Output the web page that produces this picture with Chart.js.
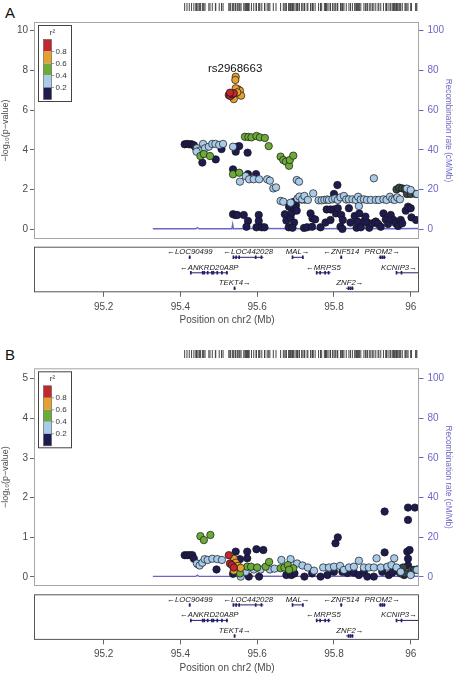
<!DOCTYPE html>
<html>
<head>
<meta charset="utf-8">
<script src="https://cdn.jsdelivr.net/npm/chart.js@4.4.1/dist/chart.umd.min.js"></script>
<style>
  html, body { margin: 0; padding: 0; background: #fff; }
  body { width: 453px; height: 673px; position: relative; overflow: hidden; font-family: "Liberation Sans", Arial, sans-serif; }
  canvas { position: absolute; left: 0; }
  .tag { position: absolute; font-size: 15px; color: #111; line-height: 1; }
</style>
</head>
<body>
<div class="tag" style="left:5px;top:5px">A</div>
<div class="tag" style="left:5px;top:347px">B</div>
<canvas id="mainA" width="453" height="249" style="top:0px"></canvas>
<canvas id="rugA" width="453" height="14" style="top:0px"></canvas>
<canvas id="geneA" width="453" height="86" style="top:240px"></canvas>
<canvas id="mainB" width="453" height="266" style="top:330px"></canvas>
<canvas id="rugB" width="453" height="14" style="top:347px"></canvas>
<canvas id="geneB" width="453" height="86" style="top:588px"></canvas>
<script>
// ---- data: [position (Mb), -log10 p] per LD group ----
const aRed = [[95.526,6.76],[95.530,6.71],[95.535,6.80],[95.539,6.85],[95.529,6.88]];
const aOrange = [[95.544,7.68],[95.543,7.52],[95.550,7.05],[95.555,6.98],[95.558,6.73],[95.539,6.56],[95.544,7.10],[95.548,6.90]];
const aGreen = [[95.452,3.69],[95.461,3.79],[95.477,3.69],[95.568,4.66],[95.577,4.65],[95.585,4.63],[95.598,4.70],
  [95.607,4.63],[95.620,4.60],[95.630,4.19],[95.661,3.66],[95.668,3.49],[95.675,3.41],[95.683,3.20],[95.685,3.49],
  [95.694,3.71],[95.537,2.77],[95.553,2.85]];
const aLightBlue = [[95.443,4.08],[95.450,3.96],[95.442,3.91],[95.459,4.30],[95.464,4.08],[95.474,4.16],[95.483,4.30],
  [95.491,4.30],[95.501,4.25],[95.511,4.30],[95.537,4.16],[95.555,2.40],[95.570,2.68],[95.579,2.52],[95.591,2.52],
  [95.605,2.52],[95.626,2.52],[95.633,2.45],[95.642,2.06],[95.649,2.11],[95.703,2.48],[95.709,2.40],[95.661,1.43],
  [95.668,1.39],[95.687,1.34],[95.705,1.55],[95.710,1.65],[95.717,1.51],[95.723,1.68],[95.732,1.48],[95.746,1.81],
  [95.760,1.46],[95.768,1.46],[95.775,1.48],[95.782,1.50],[95.787,1.48],[95.796,1.51],[95.803,1.55],[95.810,1.48],
  [95.817,1.61],[95.826,1.68],[95.832,1.50],[95.839,1.51],[95.848,1.51],[95.857,1.48],[95.863,1.64],[95.865,1.17],
  [95.870,1.50],[95.878,1.51],[95.886,1.48],[95.896,1.48],[95.904,2.57],[95.909,1.48],[95.917,1.48],[95.929,1.51],
  [95.937,1.48],[95.946,1.64],[95.952,1.51],[95.958,1.48],[95.965,1.61],[95.972,1.51],[95.990,2.05],[96.000,1.98],
  [96.016,1.78]];
const aGrey = [[95.963,2.01],[95.970,2.10],[95.978,2.06],[95.985,2.03],[95.990,1.78],[96.000,1.78],[96.013,1.78],
  [95.716,1.50],[95.724,1.50],[95.446,4.00],[95.440,4.10]];
const aNavy = [[95.411,4.28],[95.417,4.30],[95.423,4.28],[95.429,4.28],[95.435,4.23],[95.457,3.36],[95.492,3.52],
  [95.507,4.04],[95.548,4.16],[95.553,4.19],[95.544,3.91],[95.575,3.86],[95.537,3.02],[95.576,2.78],[95.597,2.78],
  [95.537,0.76],[95.543,0.72],[95.548,0.72],[95.565,0.72],[95.576,0.42],[95.572,0.13],[95.604,0.72],[95.604,0.42],
  [95.598,0.10],[95.612,0.10],[95.619,0.10],[95.672,0.76],[95.676,0.44],[95.682,0.10],[95.687,0.60],[95.690,0.84],
  [95.696,1.04],[95.701,1.21],[95.703,0.94],[95.696,0.34],[95.692,0.08],[95.683,1.14],[95.696,1.39],[95.722,0.07],
  [95.730,0.10],[95.739,0.80],[95.744,0.55],[95.751,0.50],[95.743,0.13],[95.765,0.10],[95.778,0.34],[95.791,0.47],
  [95.781,1.00],[95.791,1.00],[95.800,1.00],[95.805,0.80],[95.810,1.06],[95.819,0.72],[95.823,0.47],[95.817,0.13],
  [95.822,0.02],[95.809,2.23],[95.800,1.78],[95.839,1.06],[95.843,0.34],[95.854,0.67],[95.861,0.39],[95.866,0.80],
  [95.859,0.08],[95.870,0.10],[95.878,0.39],[95.882,0.64],[95.887,0.34],[95.892,0.08],[95.900,0.30],[95.909,0.39],
  [95.915,0.27],[95.922,0.13],[95.929,0.80],[95.935,0.50],[95.941,0.27],[95.948,0.72],[95.955,0.47],[95.961,0.30],
  [95.967,0.17],[95.974,0.47],[95.978,0.30],[95.987,0.94],[95.993,1.14],[96.000,1.06],[96.002,0.60],[96.014,0.47]];

const bRed = [[95.526,0.55],[95.529,0.34],[95.534,0.30],[95.539,0.24]];
const bOrange = [[95.539,0.46],[95.544,0.36],[95.550,0.28],[95.557,0.23],[95.539,0.16]];
const bGreen = [[95.452,1.03],[95.461,0.93],[95.478,1.06],[95.555,0.09],[95.574,0.26],[95.584,0.26],[95.600,0.24],
  [95.622,0.26],[95.631,0.38],[95.661,0.22],[95.671,0.24],[95.680,0.30],[95.694,0.22],[95.683,0.18]];
const bLightBlue = [[95.443,0.34],[95.450,0.29],[95.457,0.36],[95.463,0.45],[95.471,0.43],[95.483,0.46],[95.496,0.45],
  [95.508,0.43],[95.557,0.01],[95.570,0.13],[95.591,0.19],[95.609,0.19],[95.633,0.19],[95.645,0.21],[95.663,0.43],
  [95.687,0.45],[95.704,0.34],[95.718,0.29],[95.732,0.24],[95.748,0.16],[95.772,0.24],[95.787,0.24],[95.800,0.26],
  [95.816,0.28],[95.826,0.18],[95.839,0.24],[95.852,0.26],[95.865,0.41],[95.878,0.24],[95.891,0.24],[95.904,0.24],
  [95.911,0.47],[95.922,0.24],[95.939,0.26],[95.950,0.30],[95.957,0.47],[95.963,0.24],[95.974,0.13],[96.016,0.18],
  [96.000,0.05]];
const bGrey = [[95.974,0.09],[95.985,0.09],[96.002,0.18],[96.009,0.18],[96.017,0.19],[95.446,0.32],[95.980,0.24]];
const bNavy = [[95.411,0.55],[95.418,0.55],[95.425,0.55],[95.431,0.55],[95.435,0.46],[95.494,0.19],[95.544,0.64],
  [95.555,0.45],[95.574,0.64],[95.574,0.47],[95.598,0.70],[95.616,0.68],[95.537,0.08],[95.578,0.01],[95.605,0.01],
  [95.676,0.05],[95.689,0.05],[95.697,0.09],[95.723,0.01],[95.743,0.09],[95.765,0.01],[95.783,0.05],[95.804,0.85],
  [95.810,1.00],[95.800,0.13],[95.822,0.13],[95.835,0.10],[95.852,0.11],[95.865,0.05],[95.878,0.13],[95.887,0.01],
  [95.904,0.01],[95.932,1.65],[95.932,0.62],[95.926,0.13],[95.943,0.05],[95.952,0.11],[95.991,0.64],[95.997,0.68],
  [95.993,1.44],[95.993,1.75],[96.011,1.75],[95.993,0.46],[95.993,0.29],[95.970,0.13],[95.983,0.05]];

// recombination rate (cM/Mb)
const recombPos  = [95.328, 95.440, 95.444, 95.448, 95.534, 95.536, 95.538, 95.600, 95.750, 95.850, 95.950, 96.030];
const recombRate = [0.3,    0.3,    0.9,    0.3,    0.3,    2.5,    0.3,    0.4,    0.3,    0.4,    0.3,    0.4];

// genes
const geneNames  = ['LOC90499', 'LOC442028', 'MAL', 'ZNF514', 'PROM2', 'ANKRD20A8P', 'MRPS5', 'KCNIP3', 'TEKT4', 'ZNF2'];
const geneStart  = [95.422, 95.537, 95.691, 95.816, 95.917, 95.426, 95.754, 95.962, 95.539, 95.832];
const geneEnd    = [95.427, 95.616, 95.720, 95.822, 95.935, 95.524, 95.791, 96.030, 95.544, 95.851];
const geneRow    = [0, 0, 0, 0, 0, 1, 1, 1, 2, 2];
const geneStrand = [-1, -1, 1, -1, 1, -1, -1, 1, 1, 1];
const geneExons  = [
  [95.424], [95.538, 95.545, 95.553, 95.596, 95.611], [95.692, 95.719], [95.819], [95.921, 95.926, 95.931],
  [95.427, 95.458, 95.462, 95.471, 95.482, 95.486, 95.496, 95.508, 95.521], [95.755, 95.764, 95.777, 95.786],
  [95.963, 95.976], [95.541], [95.838, 95.843, 95.848]
];

const topSnpName = 'rs2968663';
const topSnpPos = 95.5425;

const legendLabels = ['0.8', '0.6', '0.4', '0.2'];
const xTicks = [95.2, 95.4, 95.6, 95.8, 96];
const yTicksA = [0, 2, 4, 6, 8, 10];
const yTicksB = [0, 1, 2, 3, 4, 5];
const recombTicks = [0, 20, 40, 60, 80, 100];

// ---- styling ----
const FONT = '"Liberation Sans", Arial, sans-serif';
const C = {
  red: '#c1272d', orange: '#e5a032', green: '#6cab3a', lightBlue: '#a8cbea',
  grey: '#3b4848', navy: '#1e1b50', recomb: '#6b67c4', axis: '#4a4a4a', gene: '#23206a'
};
const legendColors = [C.red, C.orange, C.green, C.lightBlue, C.navy];
const xMin = 95.021, xMax = 96.0216;
const GENE_BOX_H = 45.6;

const decor = {
  id: 'decor',
  afterDraw(chart, args, o) {
    const { ctx, chartArea: a } = chart;
    ctx.save();
    if (o.frame) {
      ctx.strokeStyle = o.frame;
      ctx.lineWidth = 1;
      ctx.strokeRect(a.left - 0.5, a.top + 0.5, a.right - a.left, a.bottom - a.top - 1);
    }
    if (o.legend) {
      const x0 = a.left + 3.5, y0 = a.top + 3.5, w = 33, h = 76;
      ctx.fillStyle = '#fff';
      ctx.fillRect(x0, y0, w, h);
      ctx.strokeStyle = '#444';
      ctx.strokeRect(x0, y0, w, h);
      ctx.fillStyle = '#333';
      ctx.font = '8px ' + FONT;
      ctx.textAlign = 'center';
      ctx.textBaseline = 'middle';
      ctx.fillText('r²', x0 + 14, y0 + 7);
      legendColors.forEach((c, i) => {
        ctx.fillStyle = c;
        ctx.fillRect(x0 + 5, y0 + 14 + i * 12, 8, 12);
      });
      ctx.strokeStyle = '#555';
      ctx.lineWidth = 0.6;
      ctx.strokeRect(x0 + 5, y0 + 14, 8, 60);
      ctx.textAlign = 'left';
      ctx.fillStyle = '#333';
      legendLabels.forEach((t, i) => {
        const y = y0 + 14 + (i + 1) * 12;
        ctx.beginPath(); ctx.moveTo(x0 + 13, y); ctx.lineTo(x0 + 15.5, y); ctx.stroke();
        ctx.fillText(t, x0 + 17, y);
      });
    }
    if (o.note) {
      const xs = chart.scales.x, ys = chart.scales.y;
      ctx.fillStyle = '#111';
      ctx.font = '11.5px ' + FONT;
      ctx.textAlign = 'center';
      ctx.textBaseline = 'middle';
      ctx.fillText(o.note.text, xs.getPixelForValue(o.note.x), ys.getPixelForValue(o.note.y));
    }
    if (o.genes) {
      const xs = chart.scales.x, ys = chart.scales.y;
      ctx.fillStyle = '#222';
      ctx.font = 'italic 7.8px ' + FONT;
      ctx.textAlign = 'center';
      ctx.textBaseline = 'middle';
      geneNames.forEach((n, i) => {
        const txt = geneStrand[i] < 0 ? '\u2190' + n : n + '\u2192';
        const half = ctx.measureText(txt).width / 2;
        const mid = (Math.max(geneStart[i], xMin) + Math.min(geneEnd[i], xMax)) / 2;
        let cx = xs.getPixelForValue(mid);
        cx = Math.min(cx, a.right - 2 - half);
        ctx.fillText(txt, cx, ys.getPixelForValue(geneRow[i]) - 5.3);
      });
    }
    ctx.restore();
  }
};

function pts(arr) { return arr.map(([x, y]) => ({ x, y })); }

function dotSet(arr, color) {
  return {
    type: 'scatter', data: pts(arr), backgroundColor: color, borderColor: '#151515',
    borderWidth: 0.7, pointRadius: 3.7, pointHoverRadius: 3.7
  };
}

function mainChart(id, p) {
  const datasets = [
    dotSet(p.red, C.red), dotSet(p.orange, C.orange), dotSet(p.green, C.green),
    dotSet(p.lightBlue, C.lightBlue), dotSet(p.grey, C.grey), dotSet(p.navy, C.navy),
    {
      type: 'line', yAxisID: 'y2', data: recombPos.map((x, i) => ({ x, y: recombRate[i] })),
      borderColor: C.recomb, borderWidth: 1.4, pointRadius: 0, tension: 0
    }
  ];
  new Chart(document.getElementById(id), {
    type: 'scatter',
    data: { datasets },
    options: {
      responsive: false, animation: false, events: [],
      layout: { padding: { top: p.padTop, bottom: 10, left: 0, right: 0 } },
      plugins: {
        legend: { display: false }, tooltip: { enabled: false },
        decor: { frame: '#a6a6a6', legend: true, note: p.note }
      },
      scales: {
        x: { type: 'linear', min: xMin, max: xMax, display: false },
        y: {
          type: 'linear', position: 'left', min: p.yMin, max: p.yMax,
          afterBuildTicks: s => { s.ticks = p.yTicks.map(v => ({ value: v })); },
          afterFit: s => { s.width = 35; },
          grid: { drawOnChartArea: false, tickLength: 5, color: '#666' },
          border: { display: false },
          ticks: { color: C.axis, font: { size: 10, family: FONT }, padding: 2, callback: v => String(v) },
          title: { display: true, text: '\u2212log\u2081\u2080(p\u2212value)', color: C.axis, font: { size: 9, family: FONT }, padding: 0 }
        },
        y2: {
          type: 'linear', position: 'right', min: p.y2Min, max: p.y2Max,
          afterBuildTicks: s => { s.ticks = recombTicks.map(v => ({ value: v })); },
          afterFit: s => { s.width = 34; },
          grid: { drawOnChartArea: false, tickLength: 4.5, color: C.recomb },
          border: { display: false },
          ticks: { color: C.recomb, font: { size: 10, family: FONT }, padding: 4, callback: v => String(v) },
          title: { display: true, text: 'Recombination rate (cM/Mb)', color: C.recomb, font: { size: 8.2, family: FONT }, padding: 0 }
        }
      }
    },
    plugins: [decor]
  });
}

// one short vertical segment per SNP position
function rugChart(id, positions) {
  const datasets = positions.map(x => ({
    data: [{ x, y: 0.1 }, { x, y: 0.9 }], borderColor: '#444', borderWidth: 1, pointRadius: 0
  }));
  new Chart(document.getElementById(id), {
    type: 'line',
    data: { datasets },
    options: {
      responsive: false, animation: false, events: [],
      layout: { padding: { left: 35, right: 34, top: 2, bottom: 2 } },
      plugins: { legend: { display: false }, tooltip: { enabled: false } },
      scales: {
        x: { type: 'linear', min: xMin, max: xMax, display: false },
        y: { type: 'linear', min: 0, max: 1, display: false }
      }
    }
  });
}

function geneChart(id, padTop) {
  const datasets = [];
  geneNames.forEach((n, i) => {
    datasets.push({
      data: [{ x: geneStart[i], y: geneRow[i] }, { x: geneEnd[i], y: geneRow[i] }],
      borderColor: C.gene, borderWidth: 1, pointRadius: 0
    });
    geneExons[i].forEach(e => {
      datasets.push({
        data: [{ x: e - 0.0022, y: geneRow[i] }, { x: e + 0.0022, y: geneRow[i] }],
        borderColor: C.gene, borderWidth: 3.5, pointRadius: 0, borderCapStyle: 'butt'
      });
    });
  });
  new Chart(document.getElementById(id), {
    type: 'line',
    data: { datasets },
    options: {
      responsive: false, animation: false, events: [],
      layout: { padding: { top: padTop, bottom: 0, left: 35, right: 34 } },
      plugins: {
        legend: { display: false }, tooltip: { enabled: false },
        decor: { frame: '#555', genes: true }
      },
      scales: {
        x: {
          type: 'linear', min: xMin, max: xMax,
          afterBuildTicks: s => { s.ticks = xTicks.map(v => ({ value: v })); },
          afterFit: s => { s.height = 86 - padTop - GENE_BOX_H; },
          grid: { drawOnChartArea: false, tickLength: 4.5, color: '#666' },
          border: { display: false },
          ticks: { color: C.axis, font: { size: 10, family: FONT }, padding: 4, maxRotation: 0, callback: v => String(v) },
          title: { display: true, text: 'Position on chr2 (Mb)', color: C.axis, font: { size: 10, family: FONT }, padding: { top: 1, bottom: 0 } }
        },
        y: { type: 'linear', min: -0.684, max: 2.258, reverse: true, display: false }
      }
    },
    plugins: [decor]
  });
}

mainChart('mainA', {
  red: aRed, orange: aOrange, green: aGreen, lightBlue: aLightBlue, grey: aGrey, navy: aNavy,
  padTop: 22, yMin: -0.488, yMax: 10.44, y2Min: -4.88, y2Max: 104.4, yTicks: yTicksA,
  note: { text: topSnpName, x: topSnpPos, y: 8.1 }
});
mainChart('mainB', {
  red: bRed, orange: bOrange, green: bGreen, lightBlue: bLightBlue, grey: bGrey, navy: bNavy,
  padTop: 38.3, yMin: -0.227, yMax: 5.262, y2Min: -4.54, y2Max: 105.2, yTicks: yTicksB, note: null
});

const snpPositions = [...new Set([...aRed, ...aOrange, ...aGreen, ...aLightBlue, ...aGrey, ...aNavy].map(p => p[0]))];
rugChart('rugA', snpPositions);
rugChart('rugB', snpPositions);
geneChart('geneA', 6.7);
geneChart('geneB', 6.3);
</script>
</body>
</html>
